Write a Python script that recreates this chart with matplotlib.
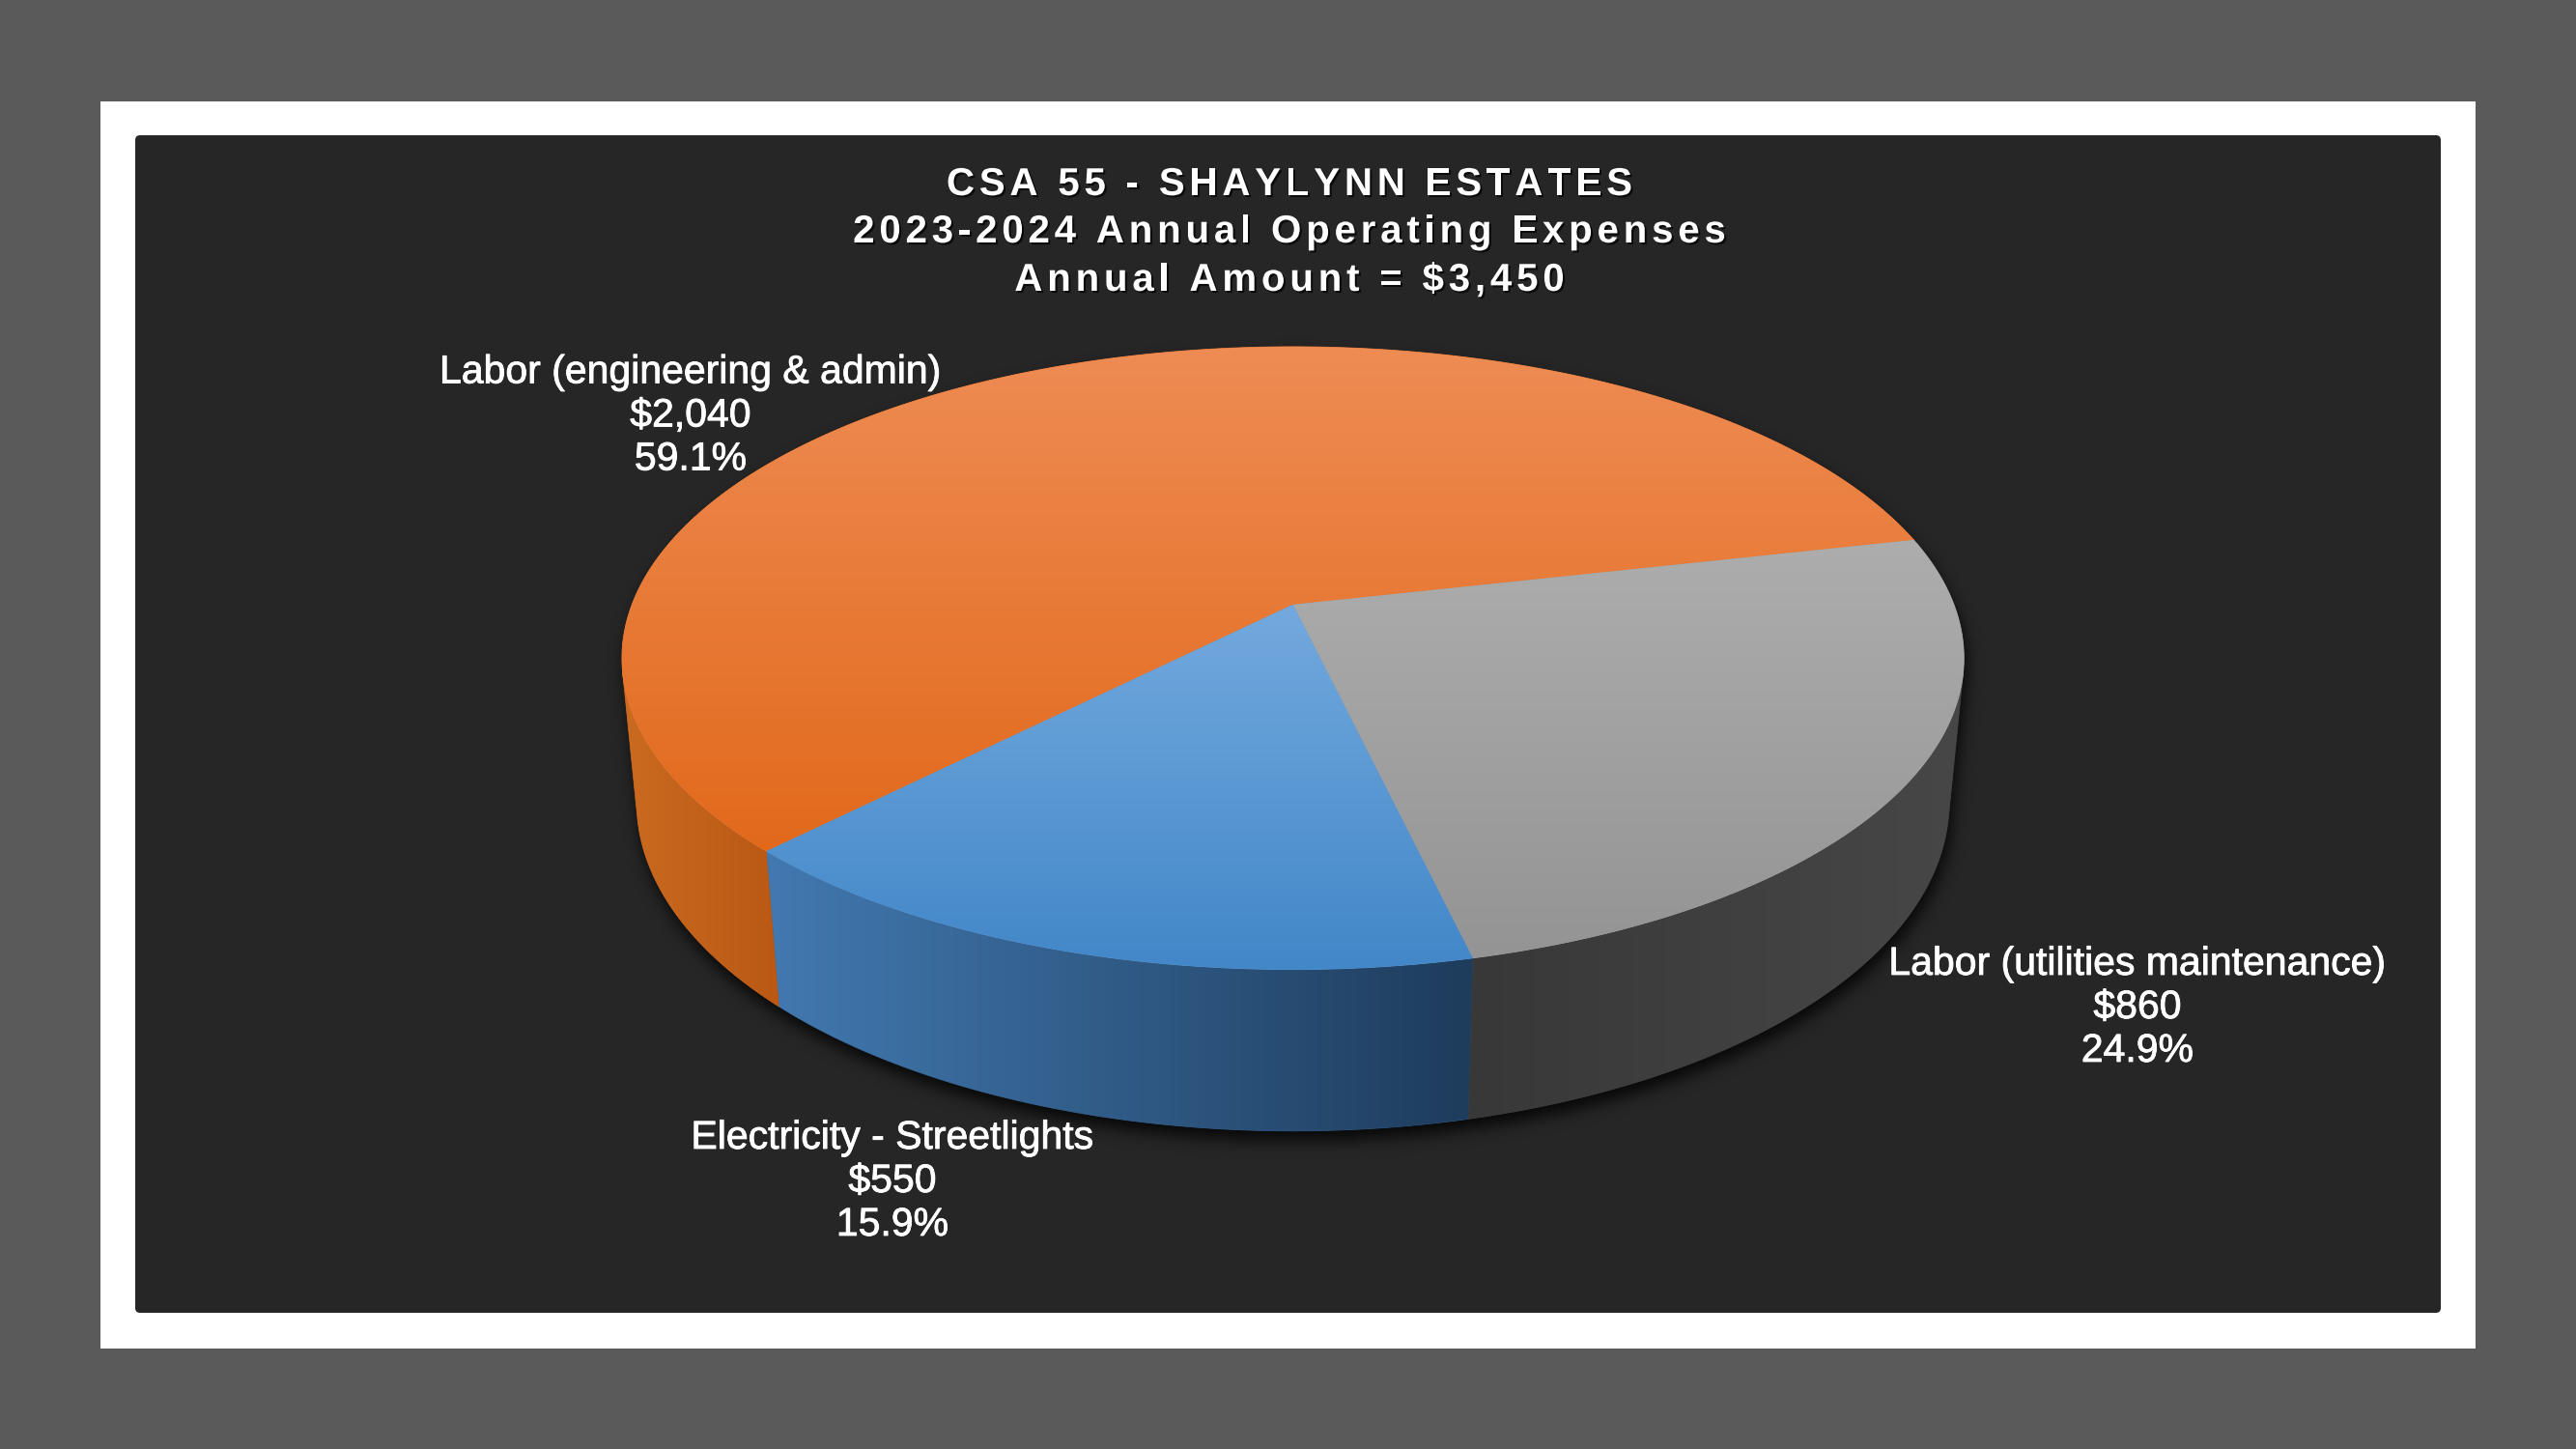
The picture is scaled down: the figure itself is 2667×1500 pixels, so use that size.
import numpy as np
import matplotlib
matplotlib.use("Agg")
import matplotlib.pyplot as plt
from matplotlib.patches import Rectangle, Polygon, FancyBboxPatch
from matplotlib.path import Path
from matplotlib.colors import to_rgb
from matplotlib import patheffects as pe
from matplotlib.font_manager import FontProperties, findfont, get_font

try:
    from matplotlib.ft2font import LoadFlags
    NO_HINT = LoadFlags.NO_HINTING
except ImportError:
    from matplotlib.ft2font import LOAD_NO_HINTING as NO_HINT

# data
title_lines = ["CSA 55 - SHAYLYNN ESTATES",
               "2023-2024 Annual Operating Expenses",
               "Annual Amount = $3,450"]
categories = ["Labor (engineering & admin)",
              "Labor (utilities maintenance)",
              "Electricity - Streetlights"]
amounts = [2040, 860, 550]

# colours: top face (upper, lower), side (left, right)
top_colors = [("#EE8C54", "#E2691B"), ("#ADADAD", "#949494"), ("#73A9DE", "#4287C8")]
side_colors = [("#CA6B21", "#BA5814"), ("#383838", "#474747"), ("#4279B0", "#1E3C5C")]

W, H = 2667, 1500
fig = plt.figure(figsize=(W / 100, H / 100), dpi=100)
fig.patch.set_facecolor("#5a5a5a")
ax = fig.add_axes([0, 0, 1, 1])
ax.set_xlim(0, W)
ax.set_ylim(H, 0)
ax.axis("off")

ax.add_patch(Rectangle((104, 105), 2459, 1291, fc="white", ec="none", zorder=0))
ax.add_patch(FancyBboxPatch((140, 140), 2387, 1219, boxstyle="round,pad=0,rounding_size=5",
                            fc="#262626", ec="none", zorder=0))

# 3d pie projection (perspective camera looking down)
cx, cy = 1338.6, 625.9
foc = 3545.0
phi = np.radians(27.2)
sp_, cp_ = np.sin(phi), np.cos(phi)
dist = 5.18
thick = 0.247


def proj(theta, z):
    u, v = np.cos(theta), np.sin(theta)
    d = dist + v * cp_ - z * sp_
    return np.column_stack([cx + foc * u / d, cy - foc * (v * sp_ + z * cp_) / d])


def grad_fill(poly, c0, c1, horizontal=False, z=2):
    c0, c1 = np.array(to_rgb(c0)), np.array(to_rgb(c1))
    mid = (c0 + c1) / 2
    patch = Polygon(poly, closed=True, fc=mid, ec=mid, lw=0.6, zorder=z)
    ax.add_patch(patch)
    x0, y0 = poly.min(0)
    x1, y1 = poly.max(0)
    t = np.linspace(0, 1, 256)[:, None]
    cols = c0 + (c1 - c0) * t
    img = cols[None, :, :] if horizontal else cols[:, None, :]
    im = ax.imshow(img, extent=(x0, x1, y1, y0), origin="upper", aspect="auto",
                   interpolation="bilinear", zorder=z + 0.1)
    im.set_clip_path(patch)


start = np.radians(225.7)
frac = np.array(amounts) / np.sum(amounts)
edges = start - np.concatenate([[0], np.cumsum(frac)]) * 2 * np.pi

# visible side band
lim = np.arcsin(-1 / (dist * cp_))
vis_lo, vis_hi = np.pi - lim, 2 * np.pi + lim

# drop shadow under the pie
ang = np.linspace(0, 2 * np.pi, 721)
band = np.linspace(vis_lo, vis_hi, 300)
shapes = [Path(proj(ang, 0)), Path(proj(ang, -thick)),
          Path(np.vstack([proj(band, 0), proj(band[::-1], -thick)]))]
off = np.array([2, 9])
gx0, gx1, gy0, gy1 = 560, 2130, 300, 1230
step = 2
xs = np.arange(gx0, gx1, step)
ys = np.arange(gy0, gy1, step)
XX, YY = np.meshgrid(xs, ys)
pts = np.column_stack([XX.ravel(), YY.ravel()]) - off
mask = np.zeros(len(pts), bool)
for p in shapes:
    mask |= p.contains_points(pts)
mask = mask.reshape(XX.shape).astype(float)
k = np.exp(-0.5 * (np.arange(-12, 13) / 4.0) ** 2)
k /= k.sum()
mask = np.apply_along_axis(lambda m: np.convolve(m, k, mode="same"), 1, mask)
mask = np.apply_along_axis(lambda m: np.convolve(m, k, mode="same"), 0, mask)
rgba = np.zeros(mask.shape + (4,))
rgba[..., 3] = mask * 0.8
ax.imshow(rgba, extent=(gx0, gx1, gy1, gy0), origin="upper", aspect="auto", zorder=1)

# sides
for i in range(len(amounts)):
    a0, a1 = edges[i], edges[i + 1]
    for shift in (-2 * np.pi, 0, 2 * np.pi):
        lo, hi = max(a1, vis_lo + shift), min(a0, vis_hi + shift)
        if hi > lo:
            th = np.linspace(lo, hi, 200)
            poly = np.vstack([proj(th, 0), proj(th[::-1], -thick)])
            grad_fill(poly, *side_colors[i], horizontal=True, z=2)

# top faces
for i in range(len(amounts)):
    th = np.linspace(edges[i], edges[i + 1], 400)
    poly = np.vstack([[cx, cy], proj(th, 0)])
    grad_fill(poly, *top_colors[i], z=3)

# title with letter spacing
title_fp = FontProperties(family="Liberation Sans", weight="bold", size=29)
tfont = get_font(findfont(title_fp))
tfont.set_size(29, 100)


def adv(ch):
    return tfont.load_char(ord(ch), flags=NO_HINT).linearHoriAdvance / 65536


shadow = [pe.withSimplePatchShadow(offset=(1.5, -1.5), shadow_rgbFace="black", alpha=0.7)]
spacing = 4.8
title_x = 1335
for line, base in zip(title_lines, [202, 251, 301]):
    widths = [adv(c) for c in line]
    total = sum(widths) + spacing * (len(line) - 1)
    x = title_x - total / 2
    for c, w in zip(line, widths):
        if c != " ":
            ax.text(x, base, c, fontproperties=title_fp, color="white", ha="left",
                    va="baseline", path_effects=shadow, zorder=5)
        x += w + spacing

# data labels
total_amt = np.sum(amounts)
label_pos = [(715, 396.5), (2213, 1009), (924, 1189)]
thicken = [pe.withStroke(linewidth=0.6, foreground="white")]
for name, amt, (lx, ly) in zip(categories, amounts, label_pos):
    rows = [name, f"${amt:,}", f"{100 * amt / total_amt:.1f}%"]
    for j, r in enumerate(rows):
        ax.text(lx, ly + 45 * j, r, family="Liberation Sans", size=29.5, color="white",
                ha="center", va="baseline", path_effects=thicken, zorder=5)

fig.savefig("out.png", dpi=100, facecolor=fig.get_facecolor())
